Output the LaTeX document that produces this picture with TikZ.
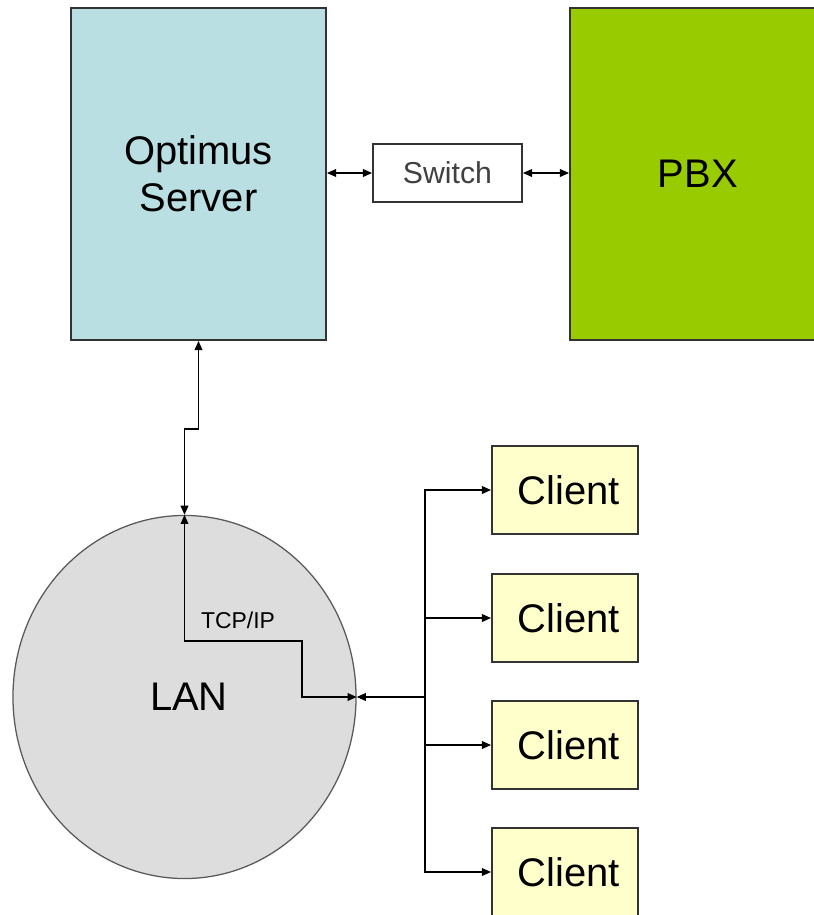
\documentclass[tikz,border=0pt]{standalone}
\usepackage{fontspec}
\setmainfont{Liberation Sans}
\usetikzlibrary{arrows.meta,shapes.geometric}

\definecolor{serverblue}{HTML}{B9DFE3}
\definecolor{pbxgreen}{HTML}{99CC00}
\definecolor{clientyellow}{HTML}{FFFFCC}
\definecolor{langray}{HTML}{DDDDDD}

\begin{document}
\begin{tikzpicture}[x=0.025cm, y=-0.025cm, >={Triangle[length=6.5pt,width=5.5pt]}]
\tikzstyle{box}=[draw=black!80, line width=1.3pt, inner sep=0pt]
\tikzstyle{big}=[font=\fontsize{28.4}{33.5}\selectfont, align=center]
\tikzstyle{client}=[box, big, fill=clientyellow, minimum width=3.65cm, minimum height=2.2cm]
\tikzstyle{link}=[line width=1pt]

\clip (0, 0) rectangle (814, 915);

\node (server) at (198.5, 174) [box, big, fill=serverblue,
    minimum width=6.375cm, minimum height=8.3cm] {Optimus\\Server};
\node (pbx) at (700, 174) [box, big, fill=pbxgreen,
    minimum width=6.5cm, minimum height=8.3cm] {\hspace*{-3pt}PBX};
\node (switch) at (447.5, 173) [box, fill=white, text=black!75,
    font=\fontsize{21.5}{26}\selectfont,
    minimum width=3.725cm, minimum height=1.45cm] {Switch};

\node (lan) at (184.5, 697) [ellipse, draw=black!65, line width=0.9pt,
    fill=langray, inner sep=0pt, minimum width=8.575cm,
    minimum height=9.075cm] {};
\node (lanlabel) at (189, 697) [big] {LAN};
\node (tcp) at (238, 620) [font=\fontsize{16.3}{19}\selectfont] {TCP/IP};

\node (client1) at (565, 490) [client] {\hspace*{5pt}Client};
\node (client2) at (565, 618) [client] {\hspace*{5pt}Client};
\node (client3) at (565, 745) [client] {\hspace*{5pt}Client};
\node (client4) at (565, 872) [client] {\hspace*{5pt}Client};

\coordinate (jog) at (302, 641);
\coordinate (bus) at (425, 697);

\draw [link, <->] (server.east |- switch.west) -- (switch.west);
\draw [link, <->] (switch.east) -- (pbx.west |- switch.east);

% server down to the LAN
\draw [link, <->] (server.south) -- ++(0, 88) -| (lan.north);
\draw [link, <->] (lan.north) |- (jog) |- (lan.east);

\draw [link, <-] (lan.east) -- (bus);
\foreach \i in {1,...,4}
    \draw [link, ->] (bus) |- (client\i.west);

\end{tikzpicture}
\end{document}
